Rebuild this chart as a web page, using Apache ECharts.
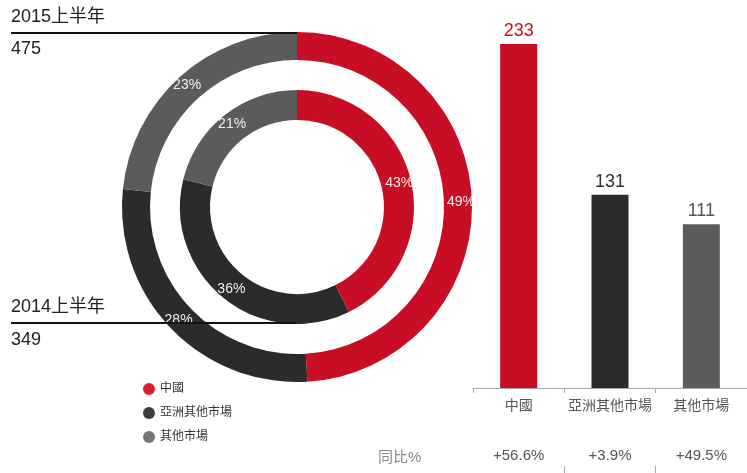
<!DOCTYPE html>
<html>
<head>
<meta charset="utf-8">
<script src="https://cdn.jsdelivr.net/npm/echarts@6/dist/echarts.min.js"></script>
<style>
  html, body { margin: 0; padding: 0; background: #fff; }
  #main { width: 747px; height: 473px; }
</style>
</head>
<body>
<div id="main"></div>
<script>
// 市場分類
var categories = ['中國', '亞洲其他市場', '其他市場'];
// 2015上半年 / 2014上半年 各市場數值
var values2015 = [233, 131, 111];
var values2014 = [149, 126, 74];
// 同比%
var yoyLabels = ['+56.6%', '+3.9%', '+49.5%'];
var periodNames = ['2015上半年', '2014上半年'];

var colors = ['#c80e24', '#2b2b2b', '#5b5b5b'];
var legendColors = ['#d8232f', '#3c3c3c', '#777777'];
var barLabelColors = ['#c80e24', '#333333', '#555555'];
var FONT = '"Liberation Sans", Arial, "Noto Sans CJK TC", sans-serif';

function sum(arr) {
    var s = 0;
    for (var i = 0; i < arr.length; i++) { s += arr[i]; }
    return s;
}

function pieData(vals) {
    var out = [];
    for (var i = 0; i < vals.length; i++) {
        out.push({ name: categories[i], value: vals[i], itemStyle: { color: colors[i] } });
    }
    return out;
}

var barData = [];
for (var i = 0; i < values2015.length; i++) {
    barData.push({
        value: values2015[i],
        itemStyle: { color: colors[i] },
        label: { color: barLabelColors[i] }
    });
}

var legendData = [];
for (var j = 0; j < categories.length; j++) {
    legendData.push({ name: categories[j], itemStyle: { color: legendColors[j] } });
}

var pieLabel = {
    show: true,
    position: 'inside',
    formatter: '{d}%',
    color: '#eeeeee',
    fontSize: 14,
    fontFamily: FONT
};

var option = {
    animation: false,
    textStyle: { fontFamily: FONT },
    legend: {
        orient: 'vertical',
        left: 138,
        top: 378,
        icon: 'circle',
        itemWidth: 12,
        itemHeight: 12,
        itemGap: 12,
        textStyle: { color: '#333', fontSize: 12 },
        data: legendData
    },
    grid: { left: 473, right: 0, top: 19, bottom: 85 },
    xAxis: [{
        type: 'category',
        data: categories,
        axisLine: { lineStyle: { color: '#aaaaaa' } },
        axisTick: { show: true, interval: 0, length: 5, lineStyle: { color: '#aaaaaa' } },
        axisLabel: { interval: 0, color: '#555', fontSize: 14, margin: 11 }
    }, {
        type: 'category',
        position: 'bottom',
        offset: 78,
        data: yoyLabels,
        axisLine: { show: false },
        axisTick: {
            show: true, length: 7, lineStyle: { color: '#aaaaaa' },
            interval: function (idx) { return idx > 0; }
        },
        axisLabel: { interval: 0, inside: true, margin: 3, color: '#555', fontSize: 15 }
    }],
    yAxis: { type: 'value', min: 0, max: 250, show: false },
    series: [{
        name: periodNames[0],
        type: 'pie',
        center: [297, 207],
        radius: [147, 175],
        startAngle: 90,
        percentPrecision: 0,
        label: pieLabel,
        labelLine: { show: false },
        emphasis: { disabled: true },
        data: pieData(values2015)
    }, {
        name: periodNames[1],
        type: 'pie',
        center: [297, 207],
        radius: [87, 117],
        startAngle: 90,
        percentPrecision: 0,
        label: pieLabel,
        labelLine: { show: false },
        emphasis: { disabled: true },
        data: pieData(values2014)
    }, {
        type: 'bar',
        barWidth: 37,
        label: { show: true, position: 'top', fontSize: 18, distance: 4 },
        data: barData
    }],
    graphic: [
        { type: 'text', left: 11, top: 8, z: 10, style: { text: periodNames[0], fontSize: 18, fill: '#222', fontFamily: FONT } },
        { type: 'line', z: 10, shape: { x1: 11, y1: 33, x2: 297, y2: 33 }, style: { stroke: '#111', lineWidth: 2 } },
        { type: 'text', left: 11, top: 40, z: 10, style: { text: String(sum(values2015)), fontSize: 18, fill: '#222', fontFamily: FONT } },
        { type: 'text', left: 11, top: 298, z: 10, style: { text: periodNames[1], fontSize: 18, fill: '#222', fontFamily: FONT } },
        { type: 'line', z: 10, shape: { x1: 11, y1: 323, x2: 296, y2: 323 }, style: { stroke: '#111', lineWidth: 2 } },
        { type: 'text', left: 11, top: 331, z: 10, style: { text: String(sum(values2014)), fontSize: 18, fill: '#222', fontFamily: FONT } },
        { type: 'text', left: 378, top: 450, style: { text: '同比%', fontSize: 15, fill: '#888', fontFamily: FONT } }
    ]
};

var chart = echarts.init(document.getElementById('main'));
chart.setOption(option);
</script>
</body>
</html>
